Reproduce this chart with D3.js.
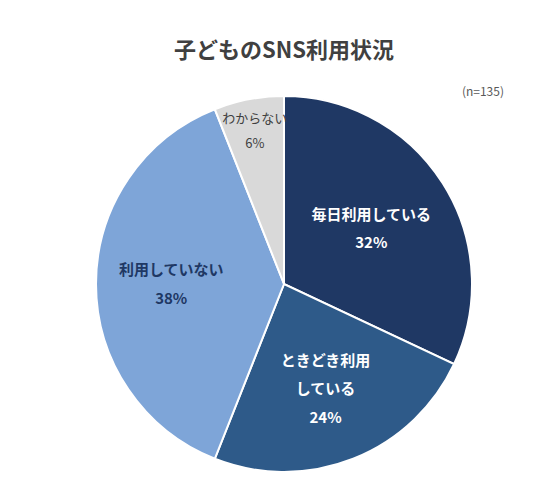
<!DOCTYPE html>
<html><head><meta charset="utf-8">
<script src="https://cdn.jsdelivr.net/npm/d3@7"></script>
<style>body{margin:0;background:#fff}</style></head>
<body><svg id="c" width="549" height="480"></svg>
<script>
const categories = ["毎日利用している","ときどき利用している","利用していない","わからない"];
const values = [32, 24, 38, 6];
const labelLines = [["毎日利用している"],["ときどき利用","している"],["利用していない"],["わからない"]];
const colors = ["#1f3864","#2e5a89","#7ea5d8","#d9d9d9"];
const textColors = ["#fff","#fff","#1f3864","#404040"];
const fontSizes = [15,15,15,13];
const labelR = [0.55,0.6,0.6,0.83];

const svg = d3.select("#c");
const font = "'Noto Sans CJK JP', sans-serif";
svg.append("text").attr("x",284).attr("y",58).attr("text-anchor","middle")
  .attr("font-family",font).attr("font-weight","bold").attr("font-size",22).attr("fill","#404040")
  .text("子どものSNS利用状況");
svg.append("text").attr("x",504).attr("y",96).attr("text-anchor","end")
  .attr("font-family",font).attr("font-size",12).attr("fill","#595959").text("(n=135)");

const cx=284, cy=284, r=188;
const g = svg.append("g").attr("transform",`translate(${cx},${cy})`);
const pie = d3.pie().sort(null).value(d=>d);
const arcs = pie(values);
const arc = d3.arc().innerRadius(0).outerRadius(r);
g.selectAll("path").data(arcs).join("path").attr("d",arc)
  .attr("fill",(d,i)=>colors[i]).attr("stroke","#fff").attr("stroke-width",2);
arcs.forEach((d,i)=>{
  const a = (d.startAngle+d.endAngle)/2;
  const rr = r*labelR[i];
  const x = Math.sin(a)*rr, y = -Math.cos(a)*rr;
  const lines = labelLines[i].concat([values[i]+"%"]);
  const lh = fontSizes[i]*1.9;
  const t = g.append("text").attr("text-anchor","middle").attr("font-family",font)
    .attr("font-weight", i==3?"normal":"bold").attr("font-size",fontSizes[i]).attr("fill",textColors[i]);
  lines.forEach((s,k)=>{
    t.append("tspan").attr("x",x).attr("y",y+(k-(lines.length-1)/2)*lh+fontSizes[i]*0.35).text(s);
  });
});
</script></body></html>
